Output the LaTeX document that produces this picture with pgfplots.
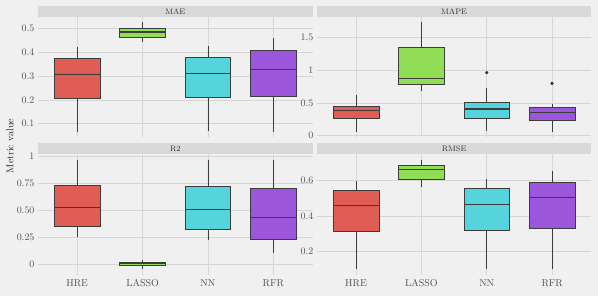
\documentclass[border=0pt]{standalone}
\usepackage{pgfplots}
\pgfplotsset{compat=1.18}
\usepgfplotslibrary{statistics}
\definecolor{bgcol}{HTML}{F0F0F0}
\definecolor{stripcol}{HTML}{D9D9D9}
\definecolor{gridcol}{HTML}{D6D6D6}
\definecolor{hre}{HTML}{E05D56}
\definecolor{lasso}{HTML}{91DD55}
\definecolor{nn}{HTML}{56D4DC}
\definecolor{rfr}{HTML}{9C56DC}
\definecolor{edge}{HTML}{3C3C3C}
\definecolor{ticktext}{HTML}{505050}
\pgfplotsset{
  every axis title shift=0pt,
  panel/.style={
    scale only axis, width=274.5bp, height=120.5bp,
    anchor=south west,
    xmin=0.4, xmax=4.6, xtick={1,2,3,4},
    axis line style={draw=none}, major tick length=0pt,
    tick style={draw=none},
    grid=major, grid style={color=gridcol, line width=0.7pt},
    yticklabel style={font=\normalsize, text=ticktext},
    xticklabel style={font=\normalsize, text=ticktext, anchor=base, yshift=-11bp},
    title style={at={(0.5,1)}, anchor=south, fill=stripcol, minimum width=274.5bp,
      minimum height=11bp, inner sep=0pt, font=\footnotesize, text=black!80},
    boxplot/draw direction=y,
    boxplot/box extend=0.7,
    boxplot/whisker extend=0,
    boxplot/every median/.style={line width=1.1pt, draw=edge},
    bp/.style={draw=edge, line width=0.65pt, mark=*, mark size=1.3pt,
      mark options={fill=black!80, draw=black!80}},
  },
}
\begin{document}
\begin{tikzpicture}
\fill[bgcol] (0bp,0bp) rectangle (598bp,296bp);
\node[rotate=90, font=\normalsize, text=black!85] at (10bp,150bp) {Metric value};
% MAE
\begin{axis}[panel, at={(38bp,158.5bp)}, title={MAE},
  ymin=0.042, ymax=0.548, ytick={0.1,0.2,0.3,0.4,0.5},
  yticklabels={0.1,0.2,0.3,0.4,0.5}, xticklabels={}]
\addplot[bp, fill=hre, boxplot prepared={draw position=1, lower whisker=0.065, lower quartile=0.2065, median=0.305, upper quartile=0.376, upper whisker=0.42}] coordinates {};
\addplot[bp, fill=lasso, boxplot prepared={draw position=2, lower whisker=0.444, lower quartile=0.462, median=0.485, upper quartile=0.501, upper whisker=0.525}] coordinates {};
\addplot[bp, fill=nn, boxplot prepared={draw position=3, lower whisker=0.069, lower quartile=0.209, median=0.312, upper quartile=0.379, upper whisker=0.428}] coordinates {};
\addplot[bp, fill=rfr, boxplot prepared={draw position=4, lower whisker=0.065, lower quartile=0.216, median=0.329, upper quartile=0.406, upper whisker=0.459}] coordinates {};
\end{axis}
% MAPE
\begin{axis}[panel, at={(316.8bp,158.5bp)}, title={MAPE},
  ymin=-0.028, ymax=1.813, ytick={0,0.5,1,1.5},
  yticklabels={0,0.5,1,1.5}, xticklabels={}]
\addplot[bp, fill=hre, boxplot prepared={draw position=1, lower whisker=0.056, lower quartile=0.26, median=0.387, upper quartile=0.448, upper whisker=0.626}] coordinates {};
\addplot[bp, fill=lasso, boxplot prepared={draw position=2, lower whisker=0.68, lower quartile=0.78, median=0.875, upper quartile=1.348, upper whisker=1.729}] coordinates {};
\addplot[bp, fill=nn, boxplot prepared={draw position=3, lower whisker=0.072, lower quartile=0.26, median=0.407, upper quartile=0.514, upper whisker=0.727}] coordinates {(0,0.962)};
\addplot[bp, fill=rfr, boxplot prepared={draw position=4, lower whisker=0.056, lower quartile=0.23, median=0.357, upper quartile=0.433, upper whisker=0.479}] coordinates {(0,0.799)};
\end{axis}
% R2
\begin{axis}[panel, at={(38bp,21bp)}, title={R2},
  ymin=-0.097, ymax=1.018, ytick={0,0.25,0.5,0.75,1},
  yticklabels={0,0.25,0.50,0.75,1}, xticklabels={HRE,LASSO,NN,RFR}]
\addplot[bp, fill=hre, boxplot prepared={draw position=1, lower whisker=0.254, lower quartile=0.349, median=0.528, upper quartile=0.729, upper whisker=0.967}] coordinates {};
\addplot[bp, fill=lasso, boxplot prepared={draw position=2, lower whisker=-0.046, lower quartile=-0.009, median=0.006, upper quartile=0.019, upper whisker=0.04}] coordinates {};
\addplot[bp, fill=nn, boxplot prepared={draw position=3, lower whisker=0.231, lower quartile=0.328, median=0.509, upper quartile=0.722, upper whisker=0.967}] coordinates {};
\addplot[bp, fill=rfr, boxplot prepared={draw position=4, lower whisker=0.111, lower quartile=0.231, median=0.432, upper quartile=0.704, upper whisker=0.967}] coordinates {};
\end{axis}
% RMSE
\begin{axis}[panel, at={(316.8bp,21bp)}, title={RMSE},
  ymin=0.068, ymax=0.745, ytick={0.2,0.4,0.6},
  yticklabels={0.2,0.4,0.6}, xticklabels={HRE,LASSO,NN,RFR}]
\addplot[bp, fill=hre, boxplot prepared={draw position=1, lower whisker=0.099, lower quartile=0.316, median=0.458, upper quartile=0.546, upper whisker=0.594}] coordinates {};
\addplot[bp, fill=lasso, boxplot prepared={draw position=2, lower whisker=0.562, lower quartile=0.603, median=0.663, upper quartile=0.683, upper whisker=0.714}] coordinates {};
\addplot[bp, fill=nn, boxplot prepared={draw position=3, lower whisker=0.099, lower quartile=0.319, median=0.465, upper quartile=0.555, upper whisker=0.607}] coordinates {};
\addplot[bp, fill=rfr, boxplot prepared={draw position=4, lower whisker=0.099, lower quartile=0.333, median=0.503, upper quartile=0.59, upper whisker=0.654}] coordinates {};
\end{axis}
\end{tikzpicture}
\end{document}
